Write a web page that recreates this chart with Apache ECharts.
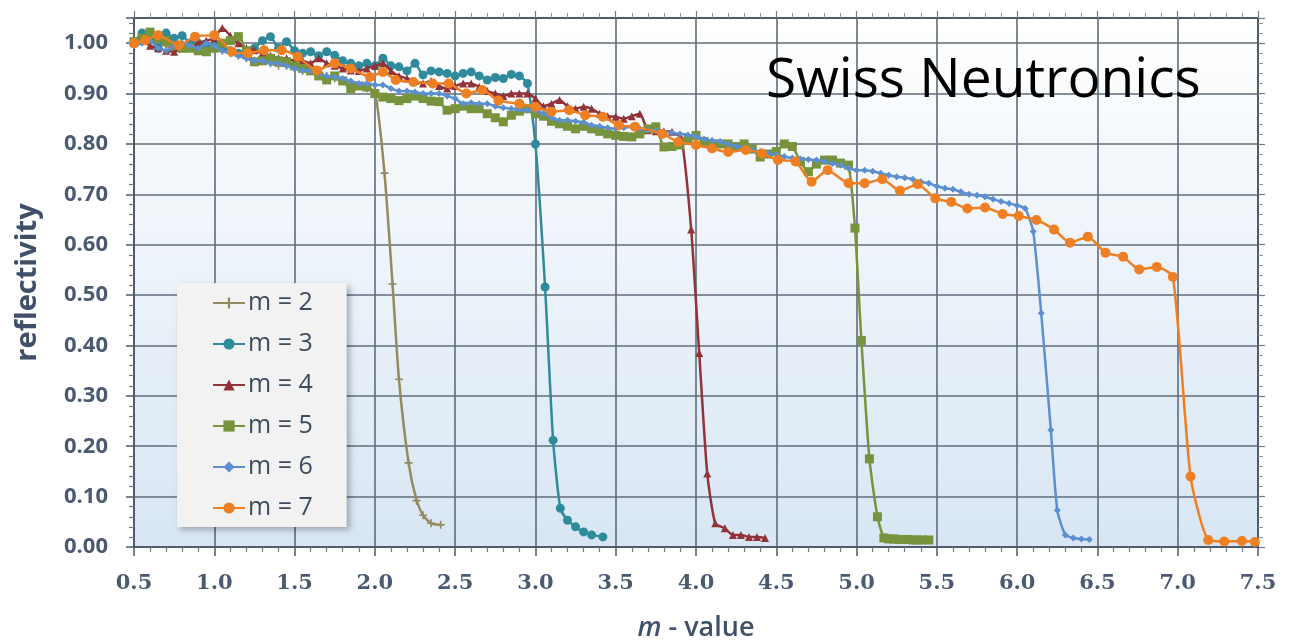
<!DOCTYPE html>
<html>
<head>
<meta charset="utf-8">
<script src="https://cdn.jsdelivr.net/npm/echarts@6/dist/echarts.min.js"></script>
<style>
html,body{margin:0;padding:0;background:#fff;}
#chart{width:1291px;height:643px;}
</style>
</head>
<body>
<div id="chart"></div>
<script>
const seriesNames = ['m = 2','m = 3','m = 4','m = 5','m = 6','m = 7'];

const m2X = [0.50,0.55,0.60,0.65,0.70,0.75,0.80,0.85,0.90,0.95,1.00,1.05,1.10,1.15,1.20,1.25,1.30,1.35,1.40,1.45,1.50,1.55,1.60,1.65,1.70,1.75,1.80,1.85,1.90,1.95,2.00,2.06,2.11,2.15,2.21,2.26,2.30,2.35,2.41];
const m2Y = [1.000,1.010,1.000,1.005,0.995,0.990,1.000,0.995,0.990,0.995,0.990,0.985,0.980,0.975,0.970,0.965,0.965,0.960,0.955,0.955,0.950,0.945,0.945,0.940,0.935,0.930,0.925,0.920,0.915,0.910,0.905,0.742,0.522,0.333,0.167,0.092,0.063,0.047,0.044];

const m3X = [0.50,0.55,0.60,0.65,0.70,0.75,0.80,0.85,0.90,0.95,1.00,1.05,1.10,1.15,1.20,1.25,1.30,1.35,1.40,1.45,1.50,1.55,1.60,1.65,1.70,1.75,1.80,1.85,1.90,1.95,2.00,2.05,2.10,2.15,2.20,2.25,2.30,2.35,2.40,2.45,2.50,2.55,2.60,2.65,2.70,2.75,2.80,2.85,2.90,2.95,3.00,3.06,3.11,3.155,3.20,3.25,3.30,3.35,3.42];
const m3Y = [1.000,1.020,1.010,0.990,1.020,1.010,1.015,1.000,1.000,0.995,0.995,0.990,0.985,0.980,0.975,0.990,1.005,1.013,0.990,1.003,0.985,0.980,0.983,0.975,0.983,0.976,0.965,0.960,0.955,0.960,0.955,0.970,0.955,0.953,0.945,0.960,0.937,0.945,0.943,0.940,0.935,0.940,0.943,0.935,0.927,0.932,0.930,0.938,0.935,0.920,0.800,0.516,0.212,0.077,0.053,0.040,0.030,0.024,0.020];

const m4X = [0.50,0.55,0.60,0.65,0.70,0.75,0.80,0.85,0.90,0.95,1.00,1.05,1.10,1.15,1.20,1.25,1.30,1.35,1.40,1.45,1.50,1.55,1.60,1.65,1.70,1.75,1.80,1.85,1.90,1.95,2.00,2.05,2.10,2.15,2.20,2.25,2.30,2.35,2.40,2.45,2.50,2.55,2.60,2.65,2.70,2.75,2.80,2.85,2.90,2.95,3.00,3.05,3.10,3.15,3.20,3.25,3.30,3.35,3.40,3.45,3.50,3.55,3.60,3.65,3.70,3.75,3.80,3.85,3.91,3.97,4.02,4.07,4.12,4.18,4.23,4.28,4.33,4.38,4.43];
const m4Y = [1.000,1.005,0.995,0.990,0.985,0.983,0.990,0.993,1.000,1.005,1.010,1.030,1.015,1.000,0.990,0.986,0.980,0.975,0.970,0.970,0.965,0.965,0.960,0.970,0.960,0.955,0.950,0.946,0.945,0.950,0.955,0.960,0.945,0.935,0.930,0.925,0.920,0.925,0.915,0.910,0.915,0.920,0.920,0.913,0.905,0.900,0.895,0.900,0.900,0.900,0.890,0.875,0.880,0.887,0.875,0.870,0.874,0.870,0.860,0.855,0.854,0.850,0.855,0.860,0.827,0.825,0.825,0.824,0.810,0.630,0.385,0.146,0.047,0.037,0.024,0.024,0.020,0.020,0.018];

const m5X = [0.50,0.55,0.60,0.65,0.70,0.75,0.80,0.85,0.90,0.95,1.00,1.05,1.10,1.15,1.20,1.25,1.30,1.35,1.40,1.45,1.50,1.55,1.60,1.65,1.70,1.75,1.80,1.85,1.90,1.95,2.00,2.05,2.10,2.15,2.20,2.25,2.30,2.35,2.40,2.45,2.50,2.55,2.60,2.65,2.70,2.75,2.80,2.85,2.90,2.95,3.00,3.05,3.10,3.15,3.20,3.25,3.30,3.35,3.40,3.45,3.50,3.55,3.60,3.65,3.70,3.75,3.80,3.85,3.90,3.95,4.00,4.05,4.10,4.15,4.20,4.25,4.30,4.35,4.40,4.45,4.50,4.55,4.60,4.65,4.70,4.75,4.80,4.85,4.90,4.95,4.99,5.03,5.08,5.13,5.17,5.20,5.23,5.26,5.29,5.32,5.35,5.38,5.41,5.45];
const m5Y = [1.003,1.010,1.022,1.010,1.005,0.995,0.990,0.990,0.985,0.983,0.990,1.000,1.005,1.013,0.985,0.963,0.965,0.970,0.965,0.963,0.955,0.950,0.945,0.935,0.927,0.935,0.925,0.910,0.915,0.913,0.900,0.893,0.890,0.886,0.890,0.895,0.890,0.885,0.884,0.867,0.870,0.875,0.870,0.870,0.860,0.852,0.844,0.857,0.865,0.870,0.860,0.855,0.845,0.840,0.835,0.830,0.835,0.830,0.825,0.820,0.817,0.815,0.814,0.820,0.830,0.834,0.794,0.795,0.798,0.810,0.817,0.805,0.800,0.800,0.800,0.795,0.800,0.790,0.774,0.780,0.785,0.800,0.795,0.765,0.745,0.760,0.768,0.768,0.762,0.758,0.633,0.410,0.175,0.060,0.018,0.016,0.016,0.015,0.015,0.015,0.014,0.014,0.014,0.014];

const m6X = [0.50,0.55,0.60,0.65,0.70,0.75,0.80,0.85,0.90,0.95,1.00,1.05,1.10,1.15,1.20,1.25,1.30,1.35,1.40,1.45,1.50,1.55,1.60,1.65,1.70,1.75,1.80,1.85,1.90,1.95,2.00,2.05,2.10,2.15,2.20,2.25,2.30,2.35,2.40,2.45,2.50,2.55,2.60,2.65,2.70,2.75,2.80,2.85,2.90,2.95,3.00,3.05,3.10,3.15,3.20,3.25,3.30,3.35,3.40,3.45,3.50,3.55,3.60,3.65,3.70,3.75,3.80,3.85,3.90,3.95,4.00,4.05,4.10,4.15,4.20,4.25,4.30,4.35,4.40,4.45,4.50,4.55,4.60,4.65,4.70,4.75,4.80,4.85,4.90,4.95,5.00,5.05,5.10,5.15,5.20,5.25,5.30,5.35,5.40,5.45,5.50,5.55,5.60,5.65,5.70,5.75,5.80,5.85,5.90,5.95,6.00,6.05,6.10,6.15,6.21,6.25,6.30,6.35,6.40,6.45];
const m6Y = [0.995,1.000,1.005,0.990,0.985,0.995,1.000,0.995,0.990,1.000,0.995,0.985,0.980,0.975,0.970,0.965,0.965,0.960,0.960,0.955,0.950,0.946,0.945,0.940,0.935,0.933,0.930,0.925,0.920,0.920,0.917,0.917,0.910,0.905,0.905,0.903,0.900,0.900,0.900,0.895,0.890,0.880,0.882,0.880,0.880,0.875,0.872,0.870,0.868,0.867,0.867,0.860,0.852,0.847,0.847,0.845,0.843,0.837,0.835,0.832,0.830,0.832,0.834,0.830,0.828,0.826,0.824,0.822,0.820,0.818,0.815,0.810,0.807,0.805,0.800,0.796,0.793,0.788,0.785,0.781,0.778,0.775,0.772,0.770,0.769,0.768,0.765,0.761,0.758,0.752,0.748,0.748,0.746,0.742,0.738,0.735,0.733,0.730,0.725,0.722,0.716,0.712,0.710,0.705,0.700,0.698,0.695,0.690,0.686,0.682,0.678,0.672,0.626,0.464,0.232,0.073,0.024,0.018,0.016,0.015];

const m7X = [0.50,0.57,0.65,0.78,0.88,1.00,1.11,1.21,1.31,1.42,1.52,1.64,1.75,1.85,1.97,2.05,2.13,2.24,2.36,2.46,2.57,2.67,2.77,2.90,3.00,3.10,3.21,3.31,3.42,3.52,3.62,3.79,3.89,4.00,4.10,4.20,4.31,4.41,4.51,4.62,4.72,4.82,4.95,5.05,5.16,5.27,5.38,5.49,5.59,5.69,5.80,5.91,6.01,6.12,6.23,6.33,6.44,6.55,6.66,6.76,6.87,6.97,7.08,7.19,7.29,7.40,7.48];
const m7Y = [1.000,1.006,1.016,0.996,1.013,1.016,0.983,0.980,0.986,0.986,0.973,0.946,0.960,0.950,0.933,0.943,0.927,0.923,0.920,0.920,0.900,0.907,0.886,0.880,0.874,0.864,0.867,0.857,0.854,0.837,0.834,0.820,0.804,0.798,0.791,0.784,0.788,0.781,0.768,0.765,0.725,0.748,0.722,0.722,0.730,0.707,0.720,0.692,0.685,0.672,0.674,0.661,0.657,0.649,0.630,0.604,0.616,0.584,0.576,0.551,0.556,0.536,0.140,0.014,0.011,0.012,0.010];

const seriesX = [m2X,m3X,m4X,m5X,m6X,m7X];
const seriesY = [m2Y,m3Y,m4Y,m5Y,m6Y,m7Y];

const colors = ['#938b5f','#2f8a9c','#913338','#77933c','#5b8fd0','#ee7f22'];
const symbols = ['path://M0,4H10V6H0Z M4,0H6V10H4Z','circle','triangle','rect','diamond','circle'];
const symbolSizes = [8,9,8,9,7,10];

const chart = echarts.init(document.getElementById('chart'), null, {renderer:'canvas'});

const labelColor = '#4a5a70';
const gridColor = '#5f6c7b';

const series = seriesNames.map((name,i)=>({
  name: name,
  type: 'line',
  data: seriesX[i].map((x,j)=>[x, seriesY[i][j]]),
  xAxisIndex: 0,
  yAxisIndex: 0,
  smooth: 0.2,
  symbol: symbols[i],
  symbolSize: symbolSizes[i],
  showAllSymbol: true,
  lineStyle: {width: 2.5, color: colors[i]},
  itemStyle: {color: colors[i]},
  z: 2 + i
}));

const option = {
  animation: false,
  backgroundColor: '#ffffff',
  grid: {
    left: 134, right: 33, top: 18, bottom: 96,
    outerBoundsMode: 'none',
    containLabel: false,
    show: true,
    borderWidth: 0,
    backgroundColor: new echarts.graphic.LinearGradient(0,0,0,1,[
      {offset:0,color:'#ffffff'},{offset:1,color:'#d8e6f4'}
    ])
  },
  xAxis: [{
    type: 'value', min: 0.5, max: 7.5, interval: 0.5,
    position: 'bottom',
    axisLine: {show: true, onZero: false, lineStyle: {color: '#4d5b6b', width: 2}},
    axisTick: {show: true, length: 9, lineStyle: {color: '#4d5b6b', width: 1.5}},
    minorTick: {show: true, splitNumber: 5, length: 5, lineStyle: {color: '#6d7a88', width: 1.2}},
    splitLine: {show: true, lineStyle: {color: gridColor, width: 1.6}},
    axisLabel: {
      margin: 26, color: labelColor, fontFamily: 'DejaVu Serif', fontWeight: 'bold', fontSize: 21,
      formatter: v => v.toFixed(1)
    },
    name: '{i|m} - value',
    nameLocation: 'middle',
    nameGap: 68,
    nameTextStyle: {
      color: '#3f5068', fontFamily: 'Open Sans', fontWeight: 600, fontSize: 27,
      rich: {i: {fontStyle: 'italic', fontWeight: 600, color: '#3f5068', fontFamily: 'Open Sans', fontSize: 27}}
    }
  },{
    type: 'value', min: 0.5, max: 7.5, interval: 0.5,
    position: 'top',
    axisLine: {show: true, onZero: false, lineStyle: {color: '#4d5b6b', width: 2}},
    axisTick: {show: true, length: 7, lineStyle: {color: '#6d7a88', width: 1.2}},
    minorTick: {show: true, splitNumber: 5, length: 5, lineStyle: {color: '#8894a0', width: 1}},
    splitLine: {show: false},
    axisLabel: {show: false}
  }],
  yAxis: [{
    type: 'value', min: 0, max: 1.05, interval: 0.1,
    position: 'left',
    axisLine: {show: true, onZero: false, lineStyle: {color: '#4d5b6b', width: 2}},
    axisTick: {show: true, length: 8, lineStyle: {color: '#4d5b6b', width: 1.5}},
    minorTick: {show: true, splitNumber: 5, length: 5, lineStyle: {color: '#6d7a88', width: 1.2}},
    splitLine: {show: true, lineStyle: {color: gridColor, width: 1.6}},
    axisLabel: {
      margin: 26, color: labelColor, fontFamily: 'Open Sans', fontWeight: 'bold', fontSize: 22,
      showMaxLabel: false,
      formatter: v => (v > 1.001 ? '' : v.toFixed(2))
    },
    name: 'reflectivity',
    nameLocation: 'middle',
    nameGap: 92,
    nameTextStyle: {color: '#3f5068', fontFamily: 'Open Sans', fontWeight: 'bold', fontSize: 29}
  },{
    type: 'value', min: 0, max: 1.05, interval: 0.1,
    position: 'right',
    axisLine: {show: true, onZero: false, lineStyle: {color: '#4d5b6b', width: 2}},
    axisTick: {show: true, length: 7, lineStyle: {color: '#6d7a88', width: 1.2}},
    minorTick: {show: true, splitNumber: 5, length: 5, lineStyle: {color: '#8894a0', width: 1}},
    splitLine: {show: false},
    axisLabel: {show: false}
  }],
  legend: {
    show: true,
    orient: 'vertical',
    left: 177, top: 283,
    padding: [7, 34, 6, 35],
    itemGap: 15,
    itemWidth: 32, itemHeight: 14,
    backgroundColor: '#f2f2f2',
    shadowBlur: 6, shadowOffsetX: 3, shadowOffsetY: 3, shadowColor: 'rgba(0,0,0,0.28)',
    textStyle: {color: '#3d4b5d', fontFamily: 'Open Sans', fontSize: 25, lineHeight: 26, padding: [0,0,0,-2]},
    data: seriesNames
  },
  graphic: [{
    type: 'text',
    left: 766, top: 54,
    z: 100,
    style: {text: 'Swiss Neutronics', fill: '#000000', font: '55px "Open Sans"'}
  }],
  series: series
};
chart.setOption(option);
</script>
</body>
</html>
